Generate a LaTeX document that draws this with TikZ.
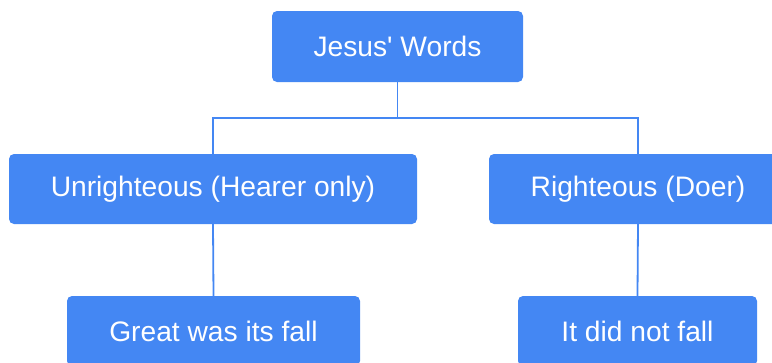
\documentclass[tikz,border=0pt]{standalone}
\usepackage{fontspec}
\setmainfont{Liberation Sans}
\definecolor{gblue}{HTML}{4487F3}
\begin{document}
\begin{tikzpicture}[x=1pt,y=-1pt,
  box/.style={fill=gblue, rounded corners=5pt, text=white, inner sep=0pt, anchor=center,
    font=\fontsize{28.2}{34}\selectfont},
  link/.style={draw=gblue, line width=1.8pt}]
\clip (0,0) rectangle (772,362);
\node[box, minimum width=251pt, minimum height=71pt] (top) at (397.5,46.5) {Jesus\textquotesingle{} Words};
\node[box, minimum width=408pt, minimum height=70pt] (left) at (213,189) {Unrighteous (Hearer only)};
\node[box, minimum width=298pt, minimum height=70pt] (right) at (638,189) {Righteous (Doer)};
\node[box, minimum width=293pt, minimum height=70pt] (gl) at (213.5,331) {Great was its fall};
\node[box, minimum width=239pt, minimum height=70pt] (gr) at (637.5,331) {It did not fall};
\coordinate (j) at (397.5,118);
\draw[link] (top.south) -- (j);
\draw[link] (j) -| (left.north);
\draw[link] (j) -| (right.north);
\draw[link] (left.south) -- (gl.north);
\draw[link] (right.south) -- (gr.north);
\end{tikzpicture}
\end{document}
